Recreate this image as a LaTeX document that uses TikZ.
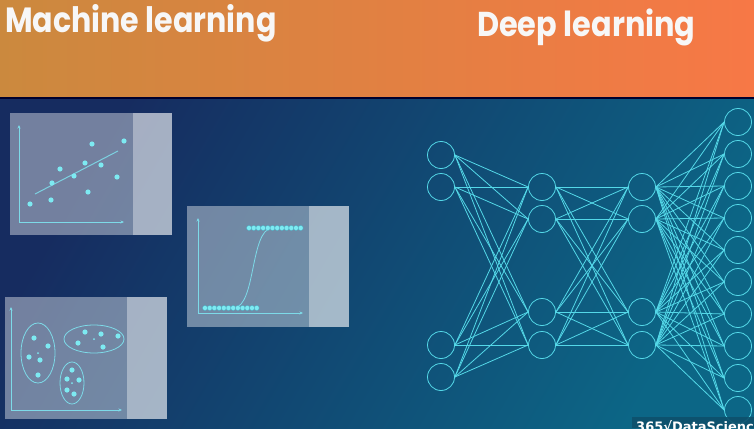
\documentclass[tikz,border=0pt]{standalone}
\usepackage{fontspec}
\setmainfont{Poppins}
\newfontfamily\wmfont{DejaVu Sans}
\usetikzlibrary{arrows.meta}
\definecolor{hdrL}{RGB}{203,137,62}
\definecolor{hdrM}{RGB}{222,130,64}
\definecolor{hdrR}{RGB}{247,120,70}
\definecolor{bgA}{RGB}{22,44,96}
\definecolor{bgB}{RGB}{12,102,134}
\definecolor{cyanline}{RGB}{84,216,232}
\definecolor{axisc}{RGB}{125,218,232}
\definecolor{dotc}{RGB}{125,234,242}
\definecolor{beadedge}{RGB}{70,175,195}
\definecolor{wmbg}{RGB}{14,80,108}
\begin{document}
\begin{tikzpicture}[x=1pt,y=-1pt,
  nn/.style={circle, draw=cyanline, line width=0.8pt, minimum size=27pt, inner sep=0pt},
  nnlink/.style={draw=cyanline, line width=0.8pt},
  panelmain/.style={fill=white, fill opacity=0.40},
  panelside/.style={fill=white, fill opacity=0.62},
  axisline/.style={draw=axisc, line width=0.7pt, -{Stealth[length=3.5pt,width=3pt]}},
  dotstyle/.style={fill=dotc},
  bead/.style={fill=dotc, draw=beadedge, line width=0.3pt},
  clusterring/.style={draw=axisc, line width=0.8pt},
  hdrtext/.style={text=white!94!gray, inner sep=0pt},
]
\useasboundingbox (0,0) rectangle (754,428);
\clip (0,0) rectangle (754,428);
% header
\shade[left color=hdrL, middle color=hdrM, right color=hdrR] (0,0) rectangle (754,97);
\fill[black!70!blue!60!black] (0,97) rectangle (754,99.5);
% background
\shade[top color=bgA, bottom color=bgB, shading angle=60] (0,99.5) rectangle (754,428);
% titles
\node[hdrtext, anchor=base west] (ml) at (5,33) {\scalebox{0.86}[1]{\fontsize{35}{35}\selectfont\bfseries Machine learning}};
\node[hdrtext, anchor=base west] (dl) at (477,37) {\scalebox{0.88}[1]{\fontsize{34.5}{34.5}\selectfont\bfseries Deep learning}};

% ---------- panel 1: regression ----------
\fill[panelmain] (10,113) rectangle (133,235);
\fill[panelside] (133,113) rectangle (172,235);
\coordinate (p1o) at (19,222);
\draw[axisline] (p1o) -- (19,125);
\draw[axisline] (p1o) -- (124,222);
\draw[draw=axisc, line width=1pt, opacity=0.9] (35,194) -- (118,151);
\foreach \x/\y in {30/204, 51/200, 52/183, 60/169, 74/176, 85/163, 88/192, 92/144, 101/165, 117/177, 124/141}
  \fill[dotstyle] (\x,\y) circle (2.6pt);

% ---------- panel 2: logistic ----------
\fill[panelmain] (187,206) rectangle (309,327);
\fill[panelside] (309,206) rectangle (349,327);
\coordinate (p2o) at (198,313);
\draw[axisline] (p2o) -- (198,218);
\draw[axisline] (p2o) -- (303,313);
\draw[draw=axisc, line width=0.8pt] (234,308) .. controls (256,306) and (250,230) .. (272,228);
\foreach \i in {0,...,11} {
  \filldraw[bead] (205+\i*4.7,308) circle (2.5pt);
  \filldraw[bead] (249+\i*4.7,228) circle (2.5pt);
}

% ---------- panel 3: clustering ----------
\fill[panelmain] (5,297) rectangle (127,419);
\fill[panelside] (127,297) rectangle (167,419);
\coordinate (p3o) at (11,410);
\draw[axisline] (p3o) -- (11,307);
\draw[axisline] (p3o) -- (122,410);
\draw[clusterring] (38,353) ellipse (17pt and 30pt);
\draw[clusterring] (94,339) ellipse (30pt and 14pt);
\draw[clusterring] (72,383) ellipse (12pt and 21pt);
\foreach \x/\y in {34/338, 48/346, 29/357, 40/360, 38/375,
                   85/332, 101/334, 118/336, 78/343, 103/347,
                   72/370, 67/379, 79/380, 67/390, 74/394}
  \fill[dotstyle] (\x,\y) circle (2.6pt);
\foreach \x/\y in {38/353, 94/339, 72/383}
  \fill[dotstyle] (\x,\y) circle (1pt);

% ---------- neural network ----------
\foreach \y [count=\i] in {155,187,345,377}
  \node[nn] (a\i) at (441,\y) {};
\foreach \y [count=\i] in {187,219,312,345}
  \node[nn] (b\i) at (542,\y) {};
\foreach \y [count=\i] in {187,219,312,345}
  \node[nn] (c\i) at (642,\y) {};
\foreach \i in {1,...,10}
  \node[nn] (d\i) at (738,{122+(\i-1)*32}) {};
\foreach \i in {1,...,4}
  \foreach \j in {1,...,4} {
    \draw[nnlink] (a\i.east) -- (b\j.west);
    \draw[nnlink] (b\i.east) -- (c\j.west);
  }
\foreach \i in {1,...,4}
  \foreach \j in {1,...,10}
    \draw[nnlink] (c\i.east) -- (d\j.west);

% ---------- watermark ----------
\fill[wmbg, opacity=0.9] (632,417) rectangle (754,428);
\node[anchor=north west, inner sep=0pt, text=white] (wm) at (636,420)
  {\wmfont\bfseries\fontsize{13}{13}\selectfont 365\raisebox{0pt}{\char"221A}DataScience};
\end{tikzpicture}
\end{document}
